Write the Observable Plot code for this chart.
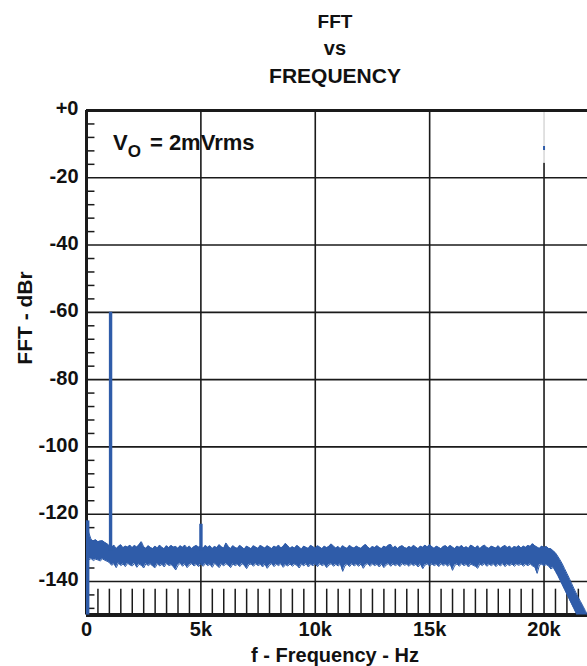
<!DOCTYPE html>
<html><head><meta charset="utf-8">
<script src="https://cdn.jsdelivr.net/npm/d3@7"></script>
<script src="https://cdn.jsdelivr.net/npm/@observablehq/plot@0.6"></script>
<style>
body{margin:0;background:#fff;font-family:"Liberation Sans",Arial,sans-serif;}
#wrap{position:relative;width:587px;height:666px;overflow:hidden;}
#title{position:absolute;left:335px;top:0;transform:translateX(-50%);text-align:center;font-weight:bold;line-height:27px;padding-top:8px;white-space:nowrap;color:#111}
#chart{position:absolute;left:0;top:90px;}
</style></head><body>
<div id="wrap">
<div id="title"><div style="font-size:19px">FFT</div><div style="font-size:20px">vs</div><div style="font-size:21px">FREQUENCY</div></div>
<div id="chart"></div>
</div>
<script>
// ---------- data ----------
const stepHz = 100; // FFT bin spacing used for the noise-floor envelope (0 .. 21900 Hz)
const floorUpper = [
 -122,-125.5,-127.5,-128,-127.6,-128.2,-128,-127.9,-128.4,-128.8,
 -129.4,-129.9,-129.2,-130.3,-129.6,-129.1,-130,-129.5,-129.8,-129.2,
 -130,-129.3,-129.8,-129.1,-128.2,-129.7,-130.2,-129.4,-129.9,-130.3,
 -129.5,-130.1,-129.2,-129.9,-130.3,-129.4,-130,-129.3,-129.8,-129.6,
 -130.2,-129.4,-129.9,-129.2,-130.1,-129.5,-130.3,-129.7,-129.3,-129.8,
 -129.6,-130.2,-129.3,-129.9,-129.4,-130.3,-129.6,-130,-129.1,-129.7,
 -130.1,-128.6,-129.6,-130.3,-129.4,-129.9,-130.2,-129.3,-129.8,-130.4,
 -129.5,-129.9,-130.3,-129.4,-129.8,-130.2,-129.3,-129.7,-130.1,-129.4,
 -129.8,-130.3,-129.5,-129.9,-129.2,-130.1,-129.6,-128.7,-129.4,-130.2,
 -129.7,-130.1,-129.3,-129.8,-130.4,-129.5,-129.9,-130.2,-129.3,-129.7,
 -130.2,-129.4,-129.8,-130.3,-129.5,-130,-129.6,-128.9,-129.5,-130.1,
 -129.6,-130.3,-129.4,-129.9,-130.2,-129.3,-129.8,-130.1,-129.5,-129.9,
 -130.2,-129.5,-129,-129.8,-130.3,-129.6,-130,-129.4,-129.9,-130.3,
 -129.5,-129.9,-129.2,-129,-130.1,-129.5,-130.3,-129.7,-129.4,-129.9,
 -130.2,-129.6,-130,-129.3,-129.8,-130.3,-129.5,-129.9,-129.2,-129.8,
 -129.1,-129.7,-130.2,-129.5,-129.9,-130.3,-129.6,-129.4,-130,-129.3,
 -129.8,-130.3,-129.5,-129.9,-129.3,-130.1,-129.7,-130.2,-129.2,-129.6,
 -130.1,-129.4,-130.3,-129.6,-129.2,-129.9,-130.2,-129.5,-129.8,-130.1,
 -129.4,-130.2,-129.7,-129.3,-130,-129.5,-130.3,-129.6,-129.9,-129.4,
 -130.1,-129.5,-129.9,-129.3,-129.6,-128.8,-129.4,-129.8,-130.2,-129.5,
 -129.9,-129.6,-130.2,-130.3,-130.9,-131.5,-132.5,-133.6,-134.8,-136.2,
 -137.6,-139,-140.5,-142,-143.4,-144.8,-146,-147.3,-148.6,-150
];
const floorLower = [
 -133,-133.5,-133.2,-133.8,-133.4,-133.6,-133.9,-133.3,-133.7,-134,
 -134.4,-135.2,-134.7,-135.9,-134.5,-135.3,-134.8,-135.6,-134.6,-135.1,
 -135.4,-134.6,-135.8,-134.9,-135.2,-136,-134.7,-135.3,-134.8,-135.5,
 -135.9,-134.7,-135.4,-134.9,-135.7,-134.6,-135.3,-135,-135.6,-136.6,
 -135.2,-134.6,-135.5,-134.8,-135.9,-135.1,-134.7,-135.4,-134.9,-135.6,
 -134.8,-135.5,-134.7,-135.3,-134.9,-135.8,-134.6,-135.2,-135.9,-134.8,
 -135.4,-134.7,-135.2,-135.9,-134.8,-135.3,-134.9,-135.6,-134.7,-135.2,
 -136.2,-135,-134.8,-135.5,-134.7,-135.3,-134.9,-135.7,-134.8,-136.1,
 -135.2,-134.7,-135.6,-134.9,-135.3,-134.7,-135.8,-135,-135.4,-134.8,
 -135.5,-134.9,-135.2,-136,-134.8,-135.4,-134.7,-135.7,-134.9,-135.3,
 -134.8,-135.6,-134.7,-135.3,-134.9,-135.9,-135.1,-134.7,-135.5,-134.9,
 -135.4,-134.8,-137,-135.3,-134.9,-135.6,-134.7,-135.4,-134.9,-135.5,
 -134.8,-136.1,-135,-134.7,-135.5,-134.8,-135.3,-134.9,-135.7,-134.8,
 -135.9,-135.1,-134.7,-135.5,-134.8,-135.3,-134.9,-135.6,-134.7,-135.2,
 -134.9,-135.5,-134.8,-135.3,-134.9,-135.7,-134.8,-136.2,-135.1,-134.8,
 -135.4,-134.8,-135.3,-134.9,-135.6,-134.7,-135.3,-134.9,-135.5,-134.8,
 -136.7,-135.2,-134.8,-135.5,-134.7,-135.3,-134.9,-135.7,-134.8,-135.2,
 -135.5,-136.1,-134.8,-135.3,-134.7,-135.5,-134.9,-135.3,-134.8,-135.6,
 -134.9,-135.4,-134.7,-135.6,-134.9,-135.3,-134.8,-135.5,-134.9,-135.2,
 -134.8,-135.5,-134.9,-135.3,-134.8,-135.4,-135.7,-137.6,-135.1,-134.9,
 -135.3,-135,-135.4,-136.3,-135.8,-137,-138.2,-139.6,-141,-142.4,
 -143.8,-145.2,-146.6,-148,-149.4,-150.8,-152,-153,-154,-155
];
// spurs (Hz, dBr)
const spurFreq = [0, 1000, 4950];
const spurTop  = [-122, -60, -123];
const spurBase = [-150, -131, -131];
// stray marker near 20 kHz
const strayFreq = [20000];
const strayDb = [-11.3];
// ticks
const xMajor = [0, 5000, 10000, 15000, 20000];
const xMajorLabels = ["0", "5k", "10k", "15k", "20k"];
const xMinor = [500,1000,1500,2000,2500,3000,3500,4000,4500,5500,6000,6500,7000,7500,8000,8500,9000,9500,
  10500,11000,11500,12000,12500,13000,13500,14000,14500,15500,16000,16500,17000,17500,18000,18500,19000,19500,20500,21000,21500];
const yMajor = [0, -20, -40, -60, -80, -100, -120, -140];
const yMajorLabels = ["+0", "-20", "-40", "-60", "-80", "-100", "-120", "-140"];
const yMinor = [-4,-8,-12,-16,-24,-28,-32,-36,-44,-48,-52,-56,-64,-68,-72,-76,-84,-88,-92,-96,
  -104,-108,-112,-116,-124,-128,-132,-136,-144,-148];
const xTitle = "f - Frequency - Hz";
const yTitle = "FFT - dBr";

const blue = "#2f5ca9";
const ink = "#1a1a1a";

const floorData = floorUpper.map((u, i) => ({f: i * stepHz, hi: u, lo: floorLower[i]}));
const spurs = spurFreq.map((f, i) => ({f, top: spurTop[i], base: spurBase[i]}));
const strays = strayFreq.map((f, i) => ({f, y: strayDb[i]}));

const font = {fontSize: 20, fontWeight: "bold", fill: "#111"};
const FF = "'Liberation Sans', Arial, sans-serif";

const svg = Plot.plot({
  width: 587, height: 576,
  marginLeft: 86, marginRight: 0, marginTop: 20, marginBottom: 51.4,
  style: {fontFamily: FF, overflow: "visible", background: "transparent"},
  x: {domain: [0, 21900], axis: null},
  y: {domain: [-150, 0], axis: null},
  marks: [
    // horizontal grid
    Plot.ruleY(yMajor.filter(d => d !== 0), {x1: 0, x2: 21900, stroke: ink, strokeWidth: 1.6}),
    // vertical grid
    Plot.ruleX(xMajor.filter(d => d > 0 && d < 20000), {y1: -150, y2: 0, stroke: ink, strokeWidth: 1.6}),
    Plot.ruleX([20000], {y1: -150, y2: -15.7, stroke: ink, strokeWidth: 1.6}),
    Plot.ruleX([20000], {y1: -15.7, y2: 0, stroke: "#c4c4c4", strokeWidth: 1}),
    // minor ticks
    Plot.ruleY(yMinor, {x1: 0, x2: 370, stroke: ink, strokeWidth: 1.5}),
    Plot.ruleX(xMinor, {y1: -150, y2: -142.3, stroke: ink, strokeWidth: 1.5}),
    // frame
    Plot.ruleY([0], {x1: 0, x2: 21900, stroke: ink, strokeWidth: 3}),
    Plot.ruleY([-150], {x1: 0, x2: 21900, stroke: ink, strokeWidth: 4}),
    Plot.ruleX([0], {y1: -150, y2: 0, stroke: ink, strokeWidth: 3}),
    // noise floor band
    Plot.areaY(floorData, {x: "f", y1: "lo", y2: "hi", fill: blue, clip: true}),
    Plot.line(floorData, {x: "f", y: "hi", stroke: blue, strokeWidth: 1, clip: true}),
    Plot.line(floorData, {x: "f", y: "lo", stroke: blue, strokeWidth: 1, clip: true}),
    // spurs
    Plot.ruleX(spurs, {x: "f", y1: "base", y2: "top", stroke: blue, strokeWidth: 3.4, dx: 1.2}),
    Plot.ruleX(strays, {x: "f", y1: d => d.y - 0.6, y2: d => d.y + 0.6, stroke: blue, strokeWidth: 2}),
    // tick labels
    Plot.axisY(yMajor, {tickSize: 0, tickPadding: 8, tickFormat: d => yMajorLabels[yMajor.indexOf(d)], label: null, dy: -1.5, ...font}),
    Plot.axisX(xMajor, {tickSize: 0, tickPadding: 7, tickFormat: d => xMajorLabels[xMajor.indexOf(d)], label: null, ...font})
  ]
});

const g = d3.select(svg);
// axis titles
g.append("text")
  .attr("transform", "translate(32,228) rotate(-90)")
  .attr("text-anchor", "middle")
  .attr("font-family", FF).attr("font-weight", "bold").attr("font-size", 21).attr("fill", "#111")
  .text(yTitle);
g.append("text")
  .attr("x", 335).attr("y", 572)
  .attr("text-anchor", "middle")
  .attr("font-family", FF).attr("font-weight", "bold").attr("font-size", 20).attr("fill", "#111")
  .text(xTitle);
// annotation V_O = 2mVrms
const t = g.append("text")
  .attr("x", 113).attr("y", 60).attr("text-anchor", "start")
  .attr("font-family", FF)
  .attr("font-weight", "bold").attr("font-size", 22).attr("fill", "#111");
t.append("tspan").text("V");
t.append("tspan").attr("font-size", 17).attr("dy", 7).text("O");
t.append("tspan").attr("dy", -7).attr("dx", 9).text("= 2mVrms");

document.getElementById("chart").appendChild(svg);
</script>
</body></html>
